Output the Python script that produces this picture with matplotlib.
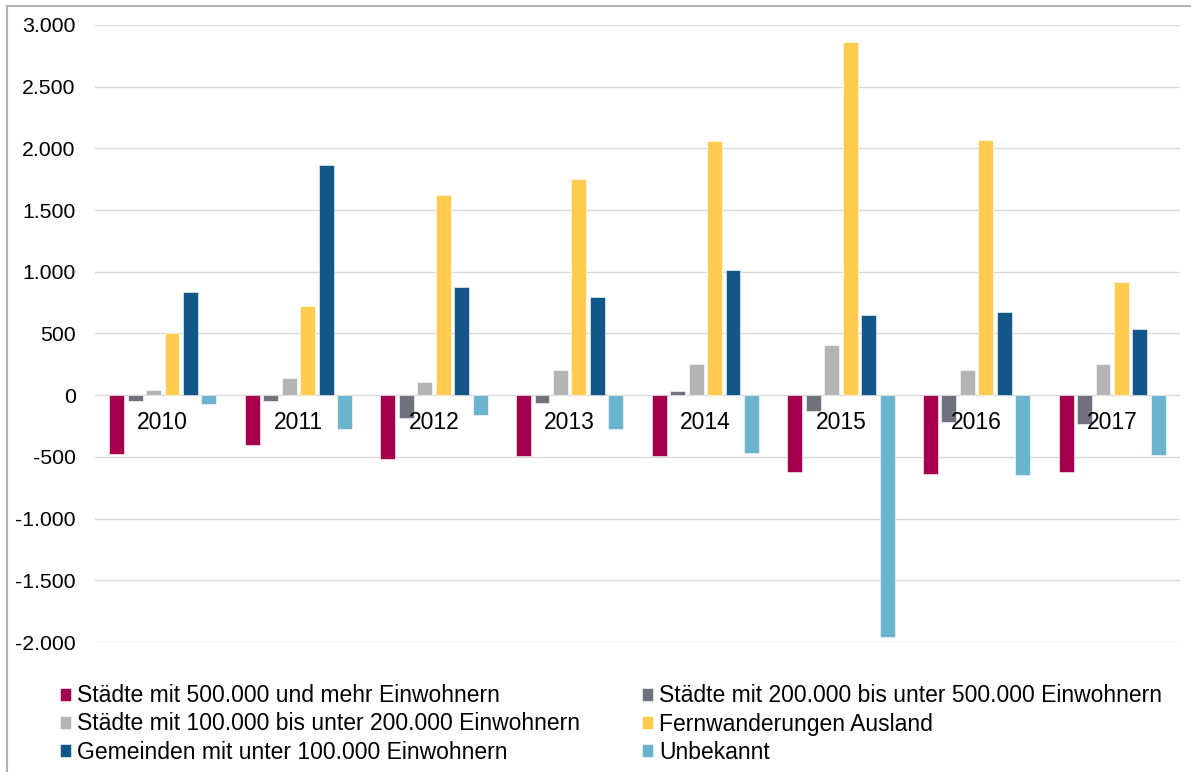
import numpy as np
import matplotlib.pyplot as plt
from matplotlib.patches import Rectangle
from matplotlib.ticker import FuncFormatter

plt.rcParams['font.family'] = ['Liberation Sans', 'DejaVu Sans']

years = ['2010', '2011', '2012', '2013', '2014', '2015', '2016', '2017']
series_names = [
    'Städte mit 500.000 und mehr Einwohnern',
    'Städte mit 200.000 bis unter 500.000 Einwohnern',
    'Städte mit 100.000 bis unter 200.000 Einwohnern',
    'Fernwanderungen Ausland',
    'Gemeinden mit unter 100.000 Einwohnern',
    'Unbekannt',
]
staedte_500k = [-480, -405, -520, -492, -492, -622, -641, -622]
staedte_200k = [-45, -45, -184, -65, 32, -127, -214, -235]
staedte_100k = [45, 140, 105, 203, 249, 405, 208, 249]
ausland = [503, 722, 1625, 1748, 2062, 2863, 2070, 919]
gemeinden = [835, 1865, 876, 795, 1014, 646, 676, 535]
unbekannt = [-75, -273, -162, -273, -465, -1963, -649, -481]

values = [staedte_500k, staedte_200k, staedte_100k, ausland, gemeinden, unbekannt]
colors = ['#A6004F', '#71717D', '#B4B4B4', '#FFCC50', '#135688', '#6CB4CE']

fig = plt.figure(figsize=(11.91, 7.72), dpi=100)
ax = fig.add_axes([95 / 1191, 1 - 642 / 772, 1085 / 1191, 617 / 772])

x = np.arange(len(years))
step = 0.136
width = 0.11
bars = []
for i, (name, vals, col) in enumerate(zip(series_names, values, colors)):
    b = ax.bar(x + (i - 2.5) * step, vals, width, color=col, label=name,
               edgecolor='white', linewidth=0.4, zorder=3)
    bars.append(b)

ax.set_ylim(-2000, 3000)
ax.set_xlim(-0.5, len(years) - 0.5)
ax.set_yticks(np.arange(-2000, 3001, 500))
ax.yaxis.set_major_formatter(FuncFormatter(lambda v, p: f'{int(v):,}'.replace(',', '.')))
ax.tick_params(axis='y', length=0, pad=14, labelsize=15.3)
ax.set_xticks([])
ax.grid(axis='y', color='#D9D9D9', linewidth=1, zorder=0)
for s in ax.spines.values():
    s.set_visible(False)

for xi, yr in zip(x, years):
    ax.annotate(yr, (xi, 0), xytext=(0, -11.5), textcoords='offset points',
                ha='center', va='top', fontsize=16.5, zorder=4)

# legend fills row by row, two columns
order = [0, 2, 4, 1, 3, 5]
fig.legend([bars[k] for k in order], [series_names[k] for k in order],
           loc='lower left', bbox_to_anchor=(49 / 1191, -3 / 772), ncol=2,
           frameon=False, fontsize=16.5, handlelength=0.48, handleheight=0.48,
           handletextpad=0.26, columnspacing=2.68, labelspacing=0.22, borderpad=0)

# chart border
fig.patches.append(Rectangle((7 / 1191, -0.1), 2, 1.1 - 6 / 772, transform=fig.transFigure,
                             fill=False, edgecolor='#B3B3B3', linewidth=1.5))

fig.savefig('out.png', dpi=100)
